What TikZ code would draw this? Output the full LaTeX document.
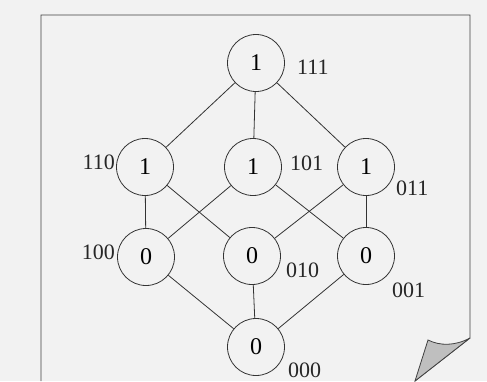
\documentclass[tikz,border=0pt]{standalone}
\usepackage{fontspec}
\setmainfont{Liberation Serif}
\begin{document}
\begin{tikzpicture}[x=1pt,y=-1pt,
  vert/.style={circle,draw=black!80,line width=0.8pt,minimum size=57pt,inner sep=0pt,font=\fontsize{24}{24}\selectfont},
  lab/.style={inner sep=0pt,font=\fontsize{22}{22}\selectfont,text=black!85},
  edge/.style={draw=black!80,line width=0.8pt}]
\useasboundingbox (0,0) rectangle (487,381);
\fill[black!5] (0,0) rectangle (487,381);
% page frame with curled corner
\coordinate (pbl) at (41,381);
\coordinate (ptl) at (41,15);
\coordinate (ptr) at (470,15);
\coordinate (pbr) at (470,338);
\coordinate (ftip) at (428,340);
\coordinate (fbot) at (415,381);
\draw[black!75,line width=0.8pt] (pbl) -- (ptl) -- (ptr) -- (pbr) -- (fbot);
\filldraw[fill=black!25,draw=black!75,line width=0.8pt] (pbr) .. controls (455,346) and (440,346) .. (ftip) -- (fbot) -- cycle;
% vertices
\node[vert] (n111) at (256,63) {1};
\node[vert] (n110) at (145,167) {1};
\node[vert] (n101) at (253,167) {1};
\node[vert] (n011) at (366,167) {1};
\node[vert] (n100) at (146,257) {0};
\node[vert] (n010) at (252,256) {0};
\node[vert] (n001) at (366,256) {0};
\node[vert] (n000) at (256,347) {0};
% edges
\foreach \a/\b in {n111/n110,n111/n101,n111/n011,n110/n100,n110/n010,n101/n100,n101/n001,n011/n010,n011/n001,n100/n000,n010/n000,n001/n000}
  \path[edge] (\a) -- (\b);
% labels
\node[lab,anchor=west] (l111) at (297,67) {111};
\node[lab,anchor=east] (l110) at (115,162) {110};
\node[lab,anchor=west] (l101) at (290,163) {101};
\node[lab,anchor=west] (l011) at (396,188) {011};
\node[lab,anchor=east] (l100) at (115,252) {100};
\node[lab,anchor=west] (l010) at (286,270) {010};
\node[lab,anchor=west] (l001) at (392,290) {001};
\node[lab,anchor=west] (l000) at (288,370) {000};
\end{tikzpicture}
\end{document}
